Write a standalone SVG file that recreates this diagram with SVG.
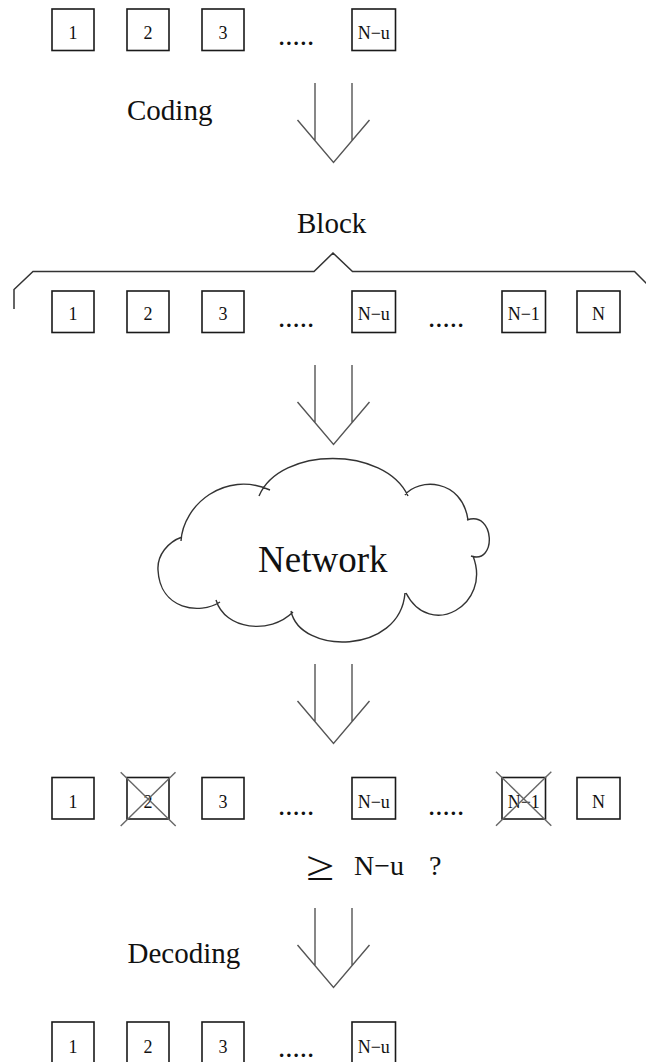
<svg xmlns="http://www.w3.org/2000/svg" xmlns:xlink="http://www.w3.org/1999/xlink" width="646" height="1062" viewBox="0 0 646 1062">
<style>
.bx{fill:#fff;stroke:#1a1a1a;stroke-width:1.6}
.lb{font-family:"Liberation Serif","Times New Roman",serif;font-size:18px;fill:#111;text-anchor:middle}
.tx{font-family:"Liberation Serif","Times New Roman",serif;font-size:29px;fill:#111}
.dots{font-family:"Liberation Serif","Times New Roman",serif;font-size:29px;fill:#111}
.ar{fill:none;stroke:#555;stroke-width:1.4}
.xx{stroke:#666;stroke-width:1.4}
.ln{fill:none;stroke:#333;stroke-width:1.5}
</style>
<defs>
<path id="arr" d="M-18.5,0 V57.7 M18.5,0 V57.7 M-36,37 L0,79.5 L36,37"/>
</defs>
<rect width="646" height="1062" fill="#fff"/>

<g id="connectors">
<use xlink:href="#arr" href="#arr" class="ar" transform="translate(333.5,83)"/>
<use xlink:href="#arr" href="#arr" class="ar" transform="translate(333.5,365)"/>
<use xlink:href="#arr" href="#arr" class="ar" transform="translate(333.5,664)"/>
<use xlink:href="#arr" href="#arr" class="ar" transform="translate(333.5,908)"/>
</g>

<g id="row-source">
<g id="s1"><rect class="bx" x="52" y="9" width="42" height="41.5"/><text class="lb" x="73" y="39">1</text></g>
<g id="s2"><rect class="bx" x="127" y="9" width="42" height="41.5"/><text class="lb" x="148" y="39">2</text></g>
<g id="s3"><rect class="bx" x="202" y="9" width="42" height="41.5"/><text class="lb" x="223" y="39">3</text></g>
<text class="dots" x="278" y="45">.....</text>
<g id="sNu"><rect class="bx" x="352" y="9" width="43.5" height="41.5"/><text class="lb" x="373.75" y="39">N−u</text></g>
</g>

<text id="coding" class="tx" x="127" y="120">Coding</text>

<g id="block-label">
<text class="tx" x="297" y="232.5">Block</text>
<path class="ln" d="M14,309 L14,289.5 L33,271.5 L314,271.5 L333,253 L352.5,271.5 L634.5,271.5 L653,290 L653,309"/>
</g>

<g id="row-block">
<g id="b1"><rect class="bx" x="52" y="291" width="42" height="41.5"/><text class="lb" x="73" y="319.5">1</text></g>
<g id="b2"><rect class="bx" x="127" y="291" width="42" height="41.5"/><text class="lb" x="148" y="319.5">2</text></g>
<g id="b3"><rect class="bx" x="202" y="291" width="42" height="41.5"/><text class="lb" x="223" y="319.5">3</text></g>
<text class="dots" x="278" y="326.5">.....</text>
<g id="bNu"><rect class="bx" x="352" y="291" width="43.5" height="41.5"/><text class="lb" x="373.75" y="319.5">N−u</text></g>
<text class="dots" x="428" y="326.5">.....</text>
<g id="bN1"><rect class="bx" x="502" y="291" width="43.5" height="41.5"/><text class="lb" x="523.75" y="319.5">N−1</text></g>
<g id="bN"><rect class="bx" x="577" y="291" width="43" height="41.5"/><text class="lb" x="598.5" y="319.5">N</text></g>
</g>

<g id="network">
<path fill="none" stroke="#333" stroke-width="1.4" d="M181,541 C183,505 225,470 270,490 M259,496 C280,446 385,446 408,496 M405,495 C418,478 462,478 468,520 M467,520 C495,510 497,565 471,556 M473,556 C492,605 430,640 406,593 M405,593 C400,655 300,655 291,611 M293,612 C270,635 225,630 216,600 M220,602 C200,615 160,610 158,570 C157,555 168,542 182,537"/>
<text x="258" y="571.5" font-family="Liberation Serif, Times New Roman, serif" font-size="37" fill="#111">Network</text>
</g>

<g id="row-received">
<g id="r1"><rect class="bx" x="52" y="777.5" width="42" height="41.5"/><text class="lb" x="73" y="807.5">1</text></g>
<g id="r2"><rect class="bx" x="127" y="777.5" width="42" height="41.5"/><text class="lb" x="148" y="807.5">2</text>
<line class="xx" x1="120.7" y1="772.3" x2="175.7" y2="826"/><line class="xx" x1="175.5" y1="772.3" x2="120.7" y2="826"/></g>
<g id="r3"><rect class="bx" x="202" y="777.5" width="42" height="41.5"/><text class="lb" x="223" y="807.5">3</text></g>
<text class="dots" x="278" y="814.5">.....</text>
<g id="rNu"><rect class="bx" x="352" y="777.5" width="43.5" height="41.5"/><text class="lb" x="373.75" y="807.5">N−u</text></g>
<text class="dots" x="428" y="814.5">.....</text>
<g id="rN1"><rect class="bx" x="502" y="777.5" width="43.5" height="41.5"/><text class="lb" x="523.75" y="807.5">N−1</text>
<line class="xx" x1="496" y1="771.7" x2="551.3" y2="825.7"/><line class="xx" x1="551.3" y1="771.7" x2="496" y2="825.7"/></g>
<g id="rN"><rect class="bx" x="577" y="777.5" width="43" height="41.5"/><text class="lb" x="598.5" y="807.5">N</text></g>
</g>

<g id="condition">
<text x="306" y="880" font-family="Liberation Serif, Times New Roman, serif" font-size="42" fill="#111" textLength="28" lengthAdjust="spacingAndGlyphs">≥</text>
<text x="354" y="875" font-family="Liberation Serif, Times New Roman, serif" font-size="28" fill="#111">N−u<tspan x="429">?</tspan></text>
</g>

<text id="decoding" class="tx" x="127.5" y="963">Decoding</text>

<g id="row-decoded">
<g id="d1"><rect class="bx" x="52" y="1022" width="42" height="41.5"/><text class="lb" x="73" y="1052.5">1</text></g>
<g id="d2"><rect class="bx" x="127" y="1022" width="42" height="41.5"/><text class="lb" x="148" y="1052.5">2</text></g>
<g id="d3"><rect class="bx" x="202" y="1022" width="42" height="41.5"/><text class="lb" x="223" y="1052.5">3</text></g>
<text class="dots" x="278" y="1056.5">.....</text>
<g id="dNu"><rect class="bx" x="352" y="1022" width="43.5" height="41.5"/><text class="lb" x="373.75" y="1052.5">N−u</text></g>
</g>
</svg>
